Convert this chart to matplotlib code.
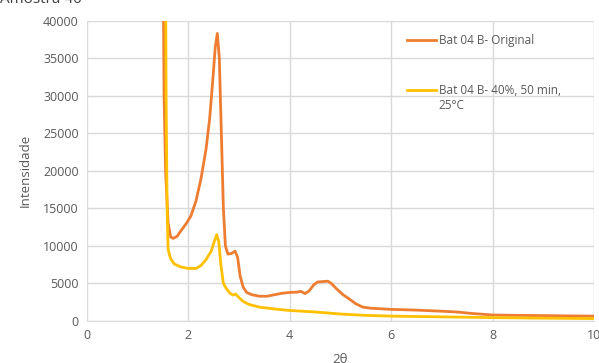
import matplotlib
matplotlib.use("Agg")
import matplotlib.pyplot as plt
import numpy as np
from matplotlib.legend_handler import HandlerLine2D

x_orig = [1.49, 1.52, 1.55, 1.60, 1.65, 1.70, 1.78, 1.85, 1.95, 2.05, 2.15, 2.25, 2.35, 2.42, 2.48,
          2.53, 2.57, 2.61, 2.65, 2.69, 2.73, 2.78, 2.85, 2.92, 2.97, 3.02, 3.08, 3.15, 3.25, 3.4,
          3.55, 3.7, 3.85, 4.0, 4.15, 4.22, 4.3, 4.38, 4.47, 4.55, 4.65, 4.75, 4.82, 4.92, 5.05,
          5.18, 5.3, 5.44, 5.6, 6.0, 6.5, 7.0, 7.3, 7.6, 8.0, 8.5, 9.0, 9.5, 10.0]
y_orig = [60000, 30000, 20000, 13000, 11200, 11000, 11300, 12000, 12900, 14000, 16000, 19000, 23000,
          27000, 32000, 36500, 38300, 35000, 25000, 15000, 10000, 8900, 9000, 9300, 8500, 6000, 4500,
          3800, 3500, 3300, 3300, 3500, 3700, 3800, 3850, 3950, 3650, 4000, 4800, 5200, 5250, 5300,
          5000, 4300, 3500, 2900, 2300, 1850, 1700, 1550, 1450, 1300, 1200, 1000, 800, 750, 720, 680, 650]

x_treat = [1.54, 1.56, 1.58, 1.60, 1.65, 1.72, 1.85, 2.0, 2.15, 2.25, 2.35, 2.45, 2.52, 2.56, 2.60,
           2.64, 2.69, 2.75, 2.82, 2.88, 2.93, 3.0, 3.08, 3.2, 3.4, 3.7, 4.0, 4.5, 5.0, 5.5, 6.0,
           7.0, 8.0, 9.0, 10.0]
y_treat = [60000, 30000, 15000, 9500, 8300, 7600, 7200, 7000, 7000, 7400, 8200, 9300, 10800, 11500,
           10500, 7500, 5000, 4300, 3700, 3450, 3600, 3100, 2600, 2200, 1850, 1600, 1400, 1200, 930,
           750, 650, 550, 450, 380, 320]

labels = ["Bat 04 B- Original", "Bat 04 B- 40%, 50 min,\n25°C"]
x_ticks = [0, 2, 4, 6, 8, 10]
y_ticks = [0, 5000, 10000, 15000, 20000, 25000, 30000, 35000, 40000]


class TopLineHandler(HandlerLine2D):
    def create_artists(self, legend, orig_handle, xdescent, ydescent, width, height,
                       fontsize, trans):
        artists = super().create_artists(legend, orig_handle, xdescent, ydescent, width,
                                         height, fontsize, trans)
        for a in artists:
            a.set_ydata(np.asarray(a.get_ydata()) + 0.72 * fontsize)
        return artists


plt.rcParams['font.family'] = ['Open Sans', 'DejaVu Sans']
fig = plt.figure(figsize=(5.99, 3.63), dpi=100)
ax = fig.add_axes([87/599, 42/363, (594-87)/599, (321-20.7)/363])

l1, = ax.plot(x_orig, y_orig, color='#ED7D31', lw=2, label=labels[0], zorder=3)
l2, = ax.plot(x_treat, y_treat, color='#FFC000', lw=2, label=labels[1], zorder=4)

ax.set_xlim(0, 10)
ax.set_ylim(0, 40000)
ax.set_xticks(x_ticks)
ax.set_yticks(y_ticks)
ax.grid(True, color='#D9D9D9', lw=1)
ax.set_axisbelow(True)
for s in ['top', 'right', 'left']:
    ax.spines[s].set_visible(False)
ax.spines['bottom'].set_color('#D9D9D9')
ax.tick_params(length=0, labelsize=9, colors='#595959', pad=6)
ax.set_ylabel('Intensidade', fontsize=9.5, color='#595959', labelpad=8)
ax.set_xlabel('2θ', fontsize=9.5, color='#595959', labelpad=8)

leg = ax.legend(handles=[l1, l2], loc='upper left', bbox_to_anchor=(0.61, 0.99), frameon=False,
                fontsize=8.5, labelcolor='#595959', handlelength=2.5, handletextpad=0.2,
                labelspacing=3.1, handler_map={l2: TopLineHandler()})

fig.text(0.0, 1 - 3/363, 'Amostra 40', fontsize=11, color='#404040', va='baseline', ha='left')

fig.savefig('out.png', dpi=100)
